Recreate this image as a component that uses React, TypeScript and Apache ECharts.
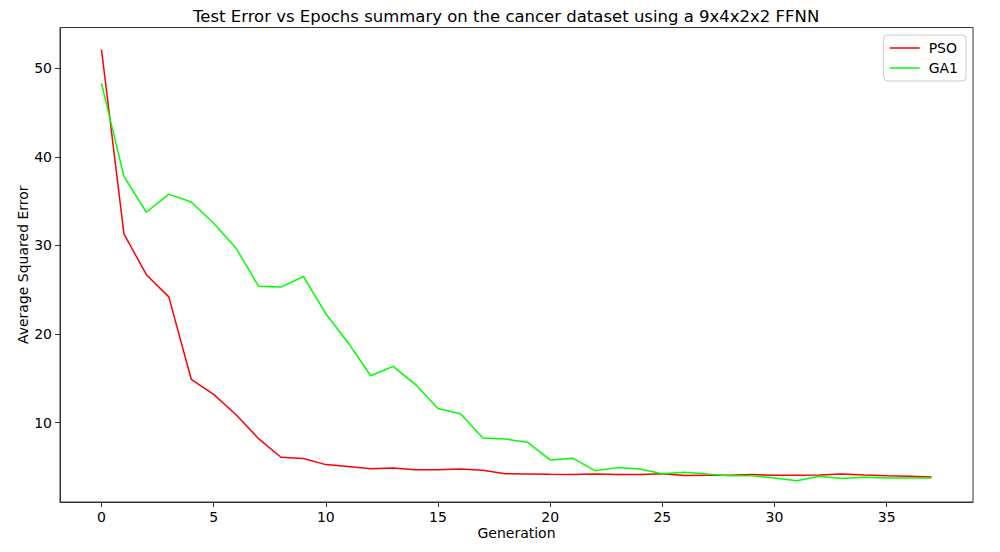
import * as echarts from 'echarts';
import { useEffect, useRef } from 'react';

const generations = Array.from({ length: 38 }, (_, i) => i);

const psoError = [
  52.1, 31.3, 26.7, 24.2, 14.9, 13.2, 10.9, 8.2, 6.1, 5.95,
  5.27, 5.07, 4.8, 4.9, 4.7, 4.7, 4.78, 4.62, 4.25, 4.21,
  4.17, 4.14, 4.2, 4.14, 4.14, 4.25, 4.04, 4.06, 4.06, 4.14,
  4.06, 4.06, 4.1, 4.21, 4.1, 4.02, 3.95, 3.88,
];

const ga1Error = [
  48.3, 37.8, 33.75, 35.8, 34.9, 32.5, 29.7, 25.4, 25.3, 26.5,
  22.3, 19.0, 15.3, 16.35, 14.3, 11.6, 11.0, 8.27, 8.16, 7.78,
  5.8, 6.0, 4.59, 4.93, 4.78, 4.25, 4.4, 4.2, 4.02, 4.0,
  3.76, 3.46, 3.95, 3.69, 3.83, 3.76, 3.76, 3.76,
];

const xTicks = [0, 5, 10, 15, 20, 25, 30, 35];
const yTicks = [10, 20, 30, 40, 50];

const FONT = 'DejaVu Sans';

export default function App() {
  const chartRef = useRef<HTMLDivElement>(null);

  useEffect(() => {
    if (!chartRef.current) return;
    const chart = echarts.init(chartRef.current, undefined, { renderer: 'svg' });

    const axisCommon = {
      type: 'value' as const,
      axisLine: { show: true, onZero: false, lineStyle: { color: '#333', width: 1 } },
      splitLine: { show: false },
      axisTick: { show: true, length: 5, lineStyle: { color: '#333', width: 1 } },
      axisLabel: { color: '#000', fontSize: 14, fontFamily: FONT },
      nameTextStyle: { color: '#000', fontSize: 14, fontFamily: FONT },
      nameMoveOverlap: false,
    };

    const option: echarts.EChartsOption = {
      animation: false,
      backgroundColor: '#fff',
      textStyle: { fontFamily: FONT },
      title: {
        text: 'Test Error vs Epochs summary on the cancer dataset using a 9x4x2x2 FFNN',
        left: 188,
        top: 3,
        textStyle: { fontSize: 16.5, fontWeight: 'normal', color: '#000', fontFamily: FONT },
      },
      legend: {
        right: 34,
        top: 35,
        orient: 'vertical',
        icon: 'rect',
        itemWidth: 30,
        itemHeight: 1.5,
        itemGap: 6,
        padding: [6, 8, 6, 6],
        borderColor: '#ccc',
        borderWidth: 1,
        borderRadius: 4,
        backgroundColor: '#fff',
        textStyle: { fontSize: 14, color: '#000', fontFamily: FONT, padding: [0, 0, 0, 4] },
        data: ['PSO', 'GA1'],
      },
      grid: {
        left: 60,
        right: 27,
        top: 27.5,
        bottom: 50,
        show: true,
        borderColor: '#333',
        borderWidth: 1,
        containLabel: false,
      },
      xAxis: {
        ...axisCommon,
        min: -1.85,
        max: 38.85,
        name: 'Generation',
        nameLocation: 'middle',
        nameGap: 24,
        axisTick: { ...axisCommon.axisTick, customValues: xTicks },
        axisLabel: { ...axisCommon.axisLabel, customValues: xTicks, margin: 8 },
      },
      yAxis: {
        ...axisCommon,
        min: 1.05,
        max: 54.6,
        name: 'Average Squared Error',
        nameLocation: 'middle',
        nameGap: 30,
        axisTick: { ...axisCommon.axisTick, customValues: yTicks },
        axisLabel: { ...axisCommon.axisLabel, customValues: yTicks, margin: 8 },
      },
      series: [
        {
          name: 'PSO',
          type: 'line',
          data: generations.map((g, i) => [g, psoError[i]]),
          symbol: 'none',
          lineStyle: { color: '#ff0000', width: 1.5 },
          itemStyle: { color: '#ff0000' },
        },
        {
          name: 'GA1',
          type: 'line',
          data: generations.map((g, i) => [g, ga1Error[i]]),
          symbol: 'none',
          lineStyle: { color: '#00ff00', width: 1.5 },
          itemStyle: { color: '#00ff00' },
        },
      ],
    };

    chart.setOption(option);
    return () => {
      chart.dispose();
    };
  }, []);

  return (
    <div
      ref={chartRef}
      style={{ position: 'fixed', left: 0, top: 0, width: 1000, height: 552 }}
    />
  );
}
